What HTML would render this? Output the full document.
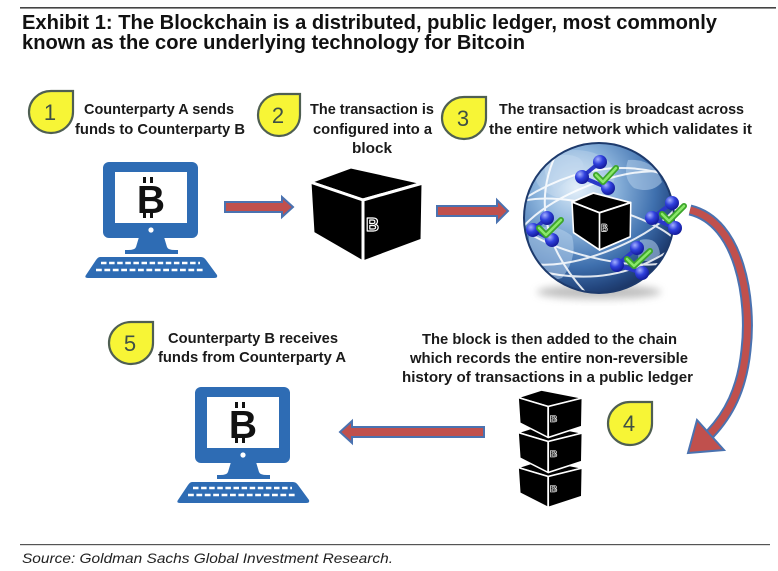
<!DOCTYPE html>
<html><head><meta charset="utf-8"><style>
html,body{margin:0;padding:0;background:#fff;}
svg{display:block;}
text{font-family:"Liberation Sans",Arial,sans-serif;}
</style></head><body>
<svg width="778" height="571" viewBox="0 0 778 571" xmlns="http://www.w3.org/2000/svg">
<defs>
 <radialGradient id="gl" cx="0.35" cy="0.3" r="0.75">
  <stop offset="0" stop-color="#dcebf8"/>
  <stop offset="0.35" stop-color="#8cb4dc"/>
  <stop offset="0.7" stop-color="#3f70ae"/>
  <stop offset="0.9" stop-color="#23467e"/>
  <stop offset="1" stop-color="#1b3463"/>
 </radialGradient>
 <radialGradient id="sp" cx="0.35" cy="0.3" r="0.7">
  <stop offset="0" stop-color="#a4b0ff"/>
  <stop offset="0.5" stop-color="#2f40dd"/>
  <stop offset="1" stop-color="#141c9c"/>
 </radialGradient>
 <clipPath id="gc"><circle cx="599" cy="218" r="75"/></clipPath>
 <filter id="bl" x="-50%" y="-50%" width="200%" height="200%"><feGaussianBlur stdDeviation="4"/></filter>
 <g id="cube" fill="#000" stroke="#fff" stroke-width="3" stroke-linejoin="round">
  <polygon points="0,15 41,0 113,16 53,33"/>
  <polygon points="0,15 53,33 53,95 3,66"/>
  <polygon points="53,33 113,16 112,73 53,95"/>
  <text x="56" y="64" font-size="18" font-weight="bold" fill="#000" stroke="#fff" stroke-width="1.2">B</text>
 </g>
 <g id="pc">
  <rect x="103" y="162" width="95" height="76" rx="6" fill="#2e6cb4"/>
  <rect x="115" y="172" width="72" height="51" fill="#fff"/>
  <text x="151" y="213" font-size="39" font-weight="bold" text-anchor="middle" fill="#111">B</text>
  <rect x="143" y="177" width="3" height="6" fill="#111"/>
  <rect x="150" y="177" width="3" height="6" fill="#111"/>
  <rect x="143" y="212" width="3" height="6" fill="#111"/>
  <rect x="150" y="212" width="3" height="6" fill="#111"/>
  <circle cx="151" cy="230" r="2.6" fill="#fff"/>
  <path d="M139,237 H164 L167,247 Q168,250 175,250 H178 V254 H125 V250 H128 Q135,250 136,247 Z" fill="#2e6cb4"/>
  <path d="M100,257 H201 Q204,257 206,260 L217,275 Q218,278 214,278 H88 Q84,278 86,275 L96,260 Q98,257 100,257 Z" fill="#2e6cb4"/>
  <line x1="101" y1="263" x2="200" y2="263" stroke="#fff" stroke-width="2.5" stroke-dasharray="5.5,2.6"/>
  <line x1="96" y1="270" x2="205" y2="270" stroke="#fff" stroke-width="2.5" stroke-dasharray="5.8,2.6"/>
 </g>
</defs>

<!-- top rule and title -->
<rect x="20" y="7" width="756" height="1.6" fill="#444"/>
<text x="22" y="29" font-size="20.5" font-weight="bold" fill="#111" textLength="695" lengthAdjust="spacingAndGlyphs">Exhibit 1: The Blockchain is a distributed, public ledger, most commonly</text>
<text x="22" y="49" font-size="20.5" font-weight="bold" fill="#111" textLength="503" lengthAdjust="spacingAndGlyphs">known as the core underlying technology for Bitcoin</text>

<!-- badges -->
<g fill="#f7f536" stroke="#4f5f52" stroke-width="2.2">
 <path d="M73,91 V112 A22,21 0 1 1 51,91 Z"/>
 <path d="M300,94 V115 A21,21 0 1 1 279,94 Z"/>
 <path d="M486,97 V118 A22,21 0 1 1 464,97 Z"/>
 <path d="M153,322 V343 A22,21 0 1 1 131,322 Z"/>
 <path d="M652,402 V423.5 A22,21.5 0 1 1 630,402 Z"/>
</g>
<g font-size="22" fill="#3f5045" text-anchor="middle">
 <text x="50" y="120">1</text>
 <text x="278" y="123">2</text>
 <text x="463" y="126">3</text>
 <text x="130" y="351">5</text>
 <text x="629" y="431">4</text>
</g>

<!-- step labels -->
<g font-size="15" font-weight="bold" fill="#1a1a1a">
 <text x="84" y="114" textLength="150" lengthAdjust="spacingAndGlyphs">Counterparty A sends</text>
 <text x="75" y="134" textLength="170" lengthAdjust="spacingAndGlyphs">funds to Counterparty B</text>
 <text x="310" y="114" textLength="124" lengthAdjust="spacingAndGlyphs">The transaction is</text>
 <text x="313" y="134" textLength="119" lengthAdjust="spacingAndGlyphs">configured into a</text>
 <text x="352" y="153" textLength="40" lengthAdjust="spacingAndGlyphs">block</text>
 <text x="499" y="114" textLength="245" lengthAdjust="spacingAndGlyphs">The transaction is broadcast across</text>
 <text x="489" y="134" textLength="263" lengthAdjust="spacingAndGlyphs">the entire network which validates it</text>
 <text x="168" y="343" textLength="170" lengthAdjust="spacingAndGlyphs">Counterparty B receives</text>
 <text x="158" y="362" textLength="188" lengthAdjust="spacingAndGlyphs">funds from Counterparty A</text>
 <text x="422" y="344" textLength="255" lengthAdjust="spacingAndGlyphs">The block is then added to the chain</text>
 <text x="410" y="363" textLength="278" lengthAdjust="spacingAndGlyphs">which records the entire non-reversible</text>
 <text x="402" y="382" textLength="291" lengthAdjust="spacingAndGlyphs">history of transactions in a public ledger</text>
</g>

<!-- computers -->
<use href="#pc"/>
<use href="#pc" transform="translate(92,225)"/>

<!-- cube 1 -->
<use href="#cube" transform="translate(310,167)"/>

<!-- stacked cubes -->
<use href="#cube" transform="translate(518,460) scale(0.57,0.5)"/>
<use href="#cube" transform="translate(518,425) scale(0.57,0.5)"/>
<use href="#cube" transform="translate(518,390) scale(0.57,0.5)"/>

<!-- straight arrows -->
<g fill="#c0504d" stroke="#4a72b0" stroke-width="2" stroke-linejoin="miter">
 <polygon points="225,202 282,202 282,197 293,207 282,217 282,212 225,212"/>
 <polygon points="437,206 497,206 497,200 508,211 497,222 497,216 437,216"/>
 <polygon points="484,427 352,427 352,421 340,432 352,443 352,437 484,437"/>
</g>

<!-- globe -->
<ellipse cx="599" cy="292" rx="62" ry="7" fill="#8a8a8a" opacity="0.55" filter="url(#bl)"/>
<circle cx="599" cy="218" r="75" fill="url(#gl)"/>
<g clip-path="url(#gc)">
 <g fill="#b4d0ec" opacity="0.55">
  <path d="M545,162 q18,-12 34,-4 q10,8 -2,18 q-12,4 -20,14 q-14,-8 -12,-28z"/>
  <path d="M530,232 q22,-12 42,4 q6,22 -10,42 q-16,6 -26,-14 q-10,-16 -6,-32z"/>
  <path d="M628,160 q26,-2 34,22 q-10,12 -28,6 q-12,-10 -6,-28z"/>
  <path d="M640,240 q18,-4 20,14 q-10,12 -22,4z"/>
 </g>
 <ellipse cx="575" cy="175" rx="40" ry="25" fill="#ffffff" opacity="0.18"/>
 <g fill="none" stroke="#fff" stroke-width="2" opacity="0.85">
  <ellipse cx="599" cy="218" rx="92" ry="34" transform="rotate(-22 599 218)"/>
  <ellipse cx="599" cy="232" rx="88" ry="26" transform="rotate(14 599 218)"/>
  <path d="M522,200 Q600,150 676,178"/>
  <path d="M535,270 Q610,290 670,250"/>
  <path d="M560,146 Q520,220 585,292"/>
 </g>
</g>
<circle cx="599" cy="218" r="75" fill="none" stroke="#1d3a6c" stroke-width="2"/>

<!-- globe cube -->
<use href="#cube" transform="translate(572,193) scale(0.52,0.6)"/>

<!-- molecules -->
<g stroke="#2a38c8" stroke-width="4">
 <line x1="582" y1="177" x2="600" y2="162"/><line x1="582" y1="177" x2="608" y2="188"/>
 <line x1="533" y1="230" x2="547" y2="218"/><line x1="533" y1="230" x2="552" y2="240"/>
 <line x1="652" y1="218" x2="672" y2="203"/><line x1="652" y1="218" x2="675" y2="228"/>
 <line x1="617" y1="265" x2="637" y2="248"/><line x1="617" y1="265" x2="642" y2="273"/>
</g>
<g fill="url(#sp)">
 <circle cx="582" cy="177" r="7"/><circle cx="600" cy="162" r="7"/><circle cx="608" cy="188" r="7"/>
 <circle cx="533" cy="230" r="7"/><circle cx="547" cy="218" r="7"/><circle cx="552" cy="240" r="7"/>
 <circle cx="652" cy="218" r="7"/><circle cx="672" cy="203" r="7"/><circle cx="675" cy="228" r="7"/>
 <circle cx="617" cy="265" r="7"/><circle cx="637" cy="248" r="7"/><circle cx="642" cy="273" r="7"/>
</g>
<g fill="none" stroke="#3ca52a" stroke-width="6" stroke-linecap="round" stroke-linejoin="round">
 <polyline points="596,175 603,182 616,168"/>
 <polyline points="539,228 546,235 561,220"/>
 <polyline points="662,214 669,221 684,206"/>
 <polyline points="627,259 634,266 650,251"/>
</g>
<g fill="none" stroke="#8ae86a" stroke-width="2.5" stroke-linecap="round" stroke-linejoin="round">
 <polyline points="596,175 603,182 616,168"/>
 <polyline points="539,228 546,235 561,220"/>
 <polyline points="662,214 669,221 684,206"/>
 <polyline points="627,259 634,266 650,251"/>
</g>

<!-- curved arrow -->
<path d="M690,210 C740,222 752,300 746,350 C742,390 728,415 710,434" fill="none" stroke="#4a72b0" stroke-width="11"/>
<path d="M690,210 C740,222 752,300 746,350 C742,390 728,415 710,434" fill="none" stroke="#c0504d" stroke-width="7"/>
<polygon points="688,453 697,420 724,450" fill="#c0504d" stroke="#4a72b0" stroke-width="2" stroke-linejoin="miter"/>

<!-- source -->
<rect x="20" y="544" width="750" height="1.2" fill="#555"/>
<text x="22" y="563" font-size="14" font-style="italic" fill="#222" textLength="371" lengthAdjust="spacingAndGlyphs">Source: Goldman Sachs Global Investment Research.</text>
</svg>
</body></html>
